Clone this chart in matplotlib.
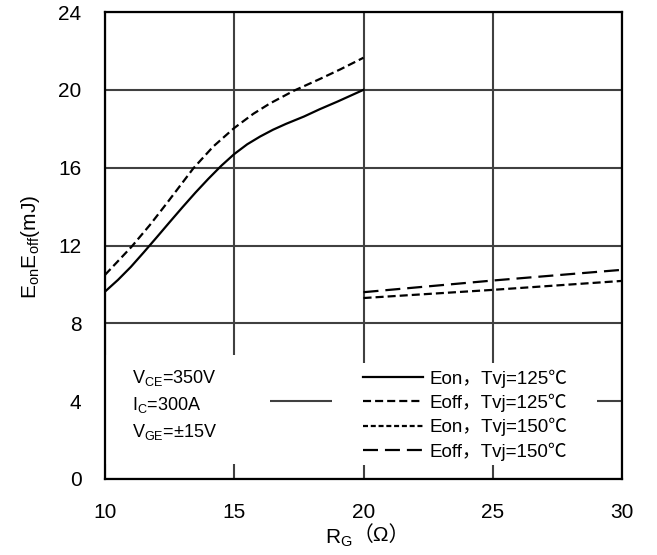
import matplotlib
matplotlib.use('Agg')
import matplotlib.pyplot as plt
from matplotlib.patches import Rectangle
from matplotlib.lines import Line2D

plt.rcParams['font.family'] = ['Liberation Sans', 'Noto Sans CJK SC']
plt.rcParams['mathtext.fontset'] = 'custom'
plt.rcParams['mathtext.rm'] = 'Liberation Sans'
plt.rcParams['mathtext.it'] = 'Liberation Sans'
plt.rcParams['lines.scale_dashes'] = False

# 数据：RG (Ω) 与开关损耗 (mJ)
rg_left_on = [10, 10.5, 11.0, 11.5, 12.0, 12.5, 13.0, 13.5, 14.0, 14.5, 15.0,
              15.5, 16.0, 16.5, 17.0, 17.7, 18.3, 19.0, 20]
eon_125 = [9.63, 10.23, 10.9, 11.65, 12.42, 13.2, 13.97, 14.72, 15.43, 16.1, 16.7,
           17.2, 17.6, 17.95, 18.25, 18.63, 19.0, 19.4, 20.0]

rg_left_off = [10, 11.03, 11.74, 12.39, 13.42, 14.19, 15.0, 15.74, 16.38, 17.3,
               18.3, 19.1, 20]
eoff_125_left = [10.49, 11.94, 13.06, 14.17, 15.97, 17.09, 18.04, 18.77, 19.3, 19.95,
                 20.55, 21.05, 21.65]

rg_right = [20, 25, 30]
eoff_150 = [9.6, 10.2, 10.75]
eoff_125_right = [9.3, 9.72, 10.18]

x_ticks = [10, 15, 20, 25, 30]
y_ticks = [0, 4, 8, 12, 16, 20, 24]

legend_labels = ['Eon，Tvj=125℃', 'Eoff，Tvj=125℃', 'Eon，Tvj=150℃', 'Eoff，Tvj=150℃']

DASH_OFF125 = (5.8, 2.9)
DASH_ON150 = (3.6, 2.0)
DASH_OFF150 = (10.8, 5.0)

fig = plt.figure(figsize=(6.57, 5.55), dpi=100)
ax = fig.add_axes([105 / 657, 1 - 479 / 555, 517 / 657, 467 / 555])

ax.set_xlim(10, 30)
ax.set_ylim(0, 24)
ax.set_xticks(x_ticks)
ax.set_yticks(y_ticks)
ax.tick_params(length=0, labelsize=15)
ax.tick_params(axis='x', pad=17)
ax.tick_params(axis='y', pad=17)
ax.set_axisbelow(True)
ax.grid(True, color='#404040', lw=1.5)
for s in ax.spines.values():
    s.set_linewidth(1.6)
    s.set_color('black')
    s.set_zorder(5)

# 白底遮挡网格（文字框和图例框）
ax.add_patch(Rectangle((10, 0.77), 6.38, 5.6, facecolor='white', lw=0, zorder=1.5))
ax.add_patch(Rectangle((18.78, 0.72), 10.25, 5.24, facecolor='white', lw=0, zorder=1.5))

ax.plot(rg_left_on, eon_125, color='black', lw=1.6, zorder=3)
ax.plot(rg_left_off, eoff_125_left, color='black', lw=1.6, dashes=DASH_OFF125, zorder=3)
ax.plot(rg_right, eoff_125_right, color='black', lw=1.6, dashes=DASH_OFF125, zorder=3)
ax.plot(rg_right, eoff_150, color='black', lw=1.6, dashes=DASH_OFF150, zorder=3)

handles = [
    Line2D([], [], color='black', lw=1.6),
    Line2D([], [], color='black', lw=1.6, dashes=DASH_OFF125),
    Line2D([], [], color='black', lw=1.6, dashes=DASH_ON150),
    Line2D([], [], color='black', lw=1.6, dashes=DASH_OFF150),
]
leg = ax.legend(handles, legend_labels, loc='center left',
                bbox_to_anchor=((363 - 105) / 517, (479 - 415) / 467),
                frameon=False, fontsize=13.5, handlelength=3.2, handletextpad=0.35,
                labelspacing=0.32, borderpad=0, borderaxespad=0)
leg.set_zorder(6)

# 测试条件
cond = [r'$\mathregular{V_{CE}}$=350V', r'$\mathregular{I_C}$=300A', r'$\mathregular{V_{GE}}$=±15V']
for i, t in enumerate(cond):
    fig.text(132 / 657, 1 - (378 + i * 27) / 555, t, fontsize=13, ha='left', va='center')

# 坐标轴标题
xl = fig.text(325 / 657, 1 - 538 / 555, r'$\mathregular{R_G}$', fontsize=15, ha='left', va='center')
fig.add_artist(plt.Annotation('（Ω）', xy=(1.0, 0.62), xycoords=xl, fontsize=15,
                              ha='left', va='center'))
fig.text(30 / 657, 1 - 247 / 555, r'$\mathregular{E_{on}E_{off}}$(mJ)', fontsize=15,
         ha='center', va='center', rotation=90)

fig.savefig('out.png', dpi=100, facecolor='white')
